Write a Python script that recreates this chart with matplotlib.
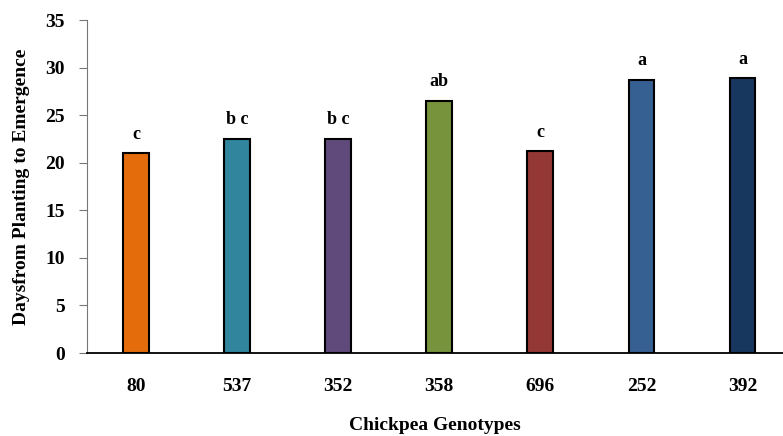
import matplotlib
matplotlib.use("Agg")
import matplotlib.pyplot as plt

# data
genotypes = ["80", "537", "352", "358", "696", "252", "392"]
days = [21.0, 22.5, 22.5, 26.5, 21.2, 28.7, 28.9]
letters = ["c", "b c", "b c", "ab", "c", "a", "a"]
colors = ["#E46C0A", "#31859C", "#604A7B", "#77933C", "#953735", "#376092", "#17375E"]

plt.rcParams["font.family"] = ["Liberation Serif", "DejaVu Serif"]
plt.rcParams["font.weight"] = "bold"

fig = plt.figure(figsize=(7.83, 4.36), dpi=100)
ax = fig.add_axes([87 / 783, 1 - 353 / 436, 1 - 87 / 783, 333 / 436])

x = range(len(genotypes))
bars = ax.bar(x, days, width=0.255, color=colors, edgecolor="black", linewidth=1.5, zorder=3)

for xi, val, lab in zip(x, days, letters):
    ax.text(xi, val + 1.1, lab, ha="center", va="bottom", fontsize=13, fontweight="bold")

ax.set_xlim(-0.485, 6.40)
ax.set_ylim(0, 35)
ax.set_yticks(range(0, 36, 5))
ax.set_xticks(list(x))
ax.set_xticklabels(genotypes)

ax.spines["top"].set_visible(False)
ax.spines["right"].set_visible(False)
ax.spines["left"].set_color("#777777")
ax.spines["bottom"].set_color("black")
ax.spines["bottom"].set_linewidth(1.3)

ax.tick_params(axis="y", direction="out", length=6, color="#777777", labelsize=14, pad=10)
ax.tick_params(axis="x", length=0, labelsize=14, pad=18)

ax.set_ylabel("Daysfrom Planting to Emergence", fontsize=14, fontweight="bold", labelpad=11)
ax.set_xlabel("Chickpea Genotypes", fontsize=14, fontweight="bold", labelpad=16)

fig.savefig("out.png", dpi=100)
